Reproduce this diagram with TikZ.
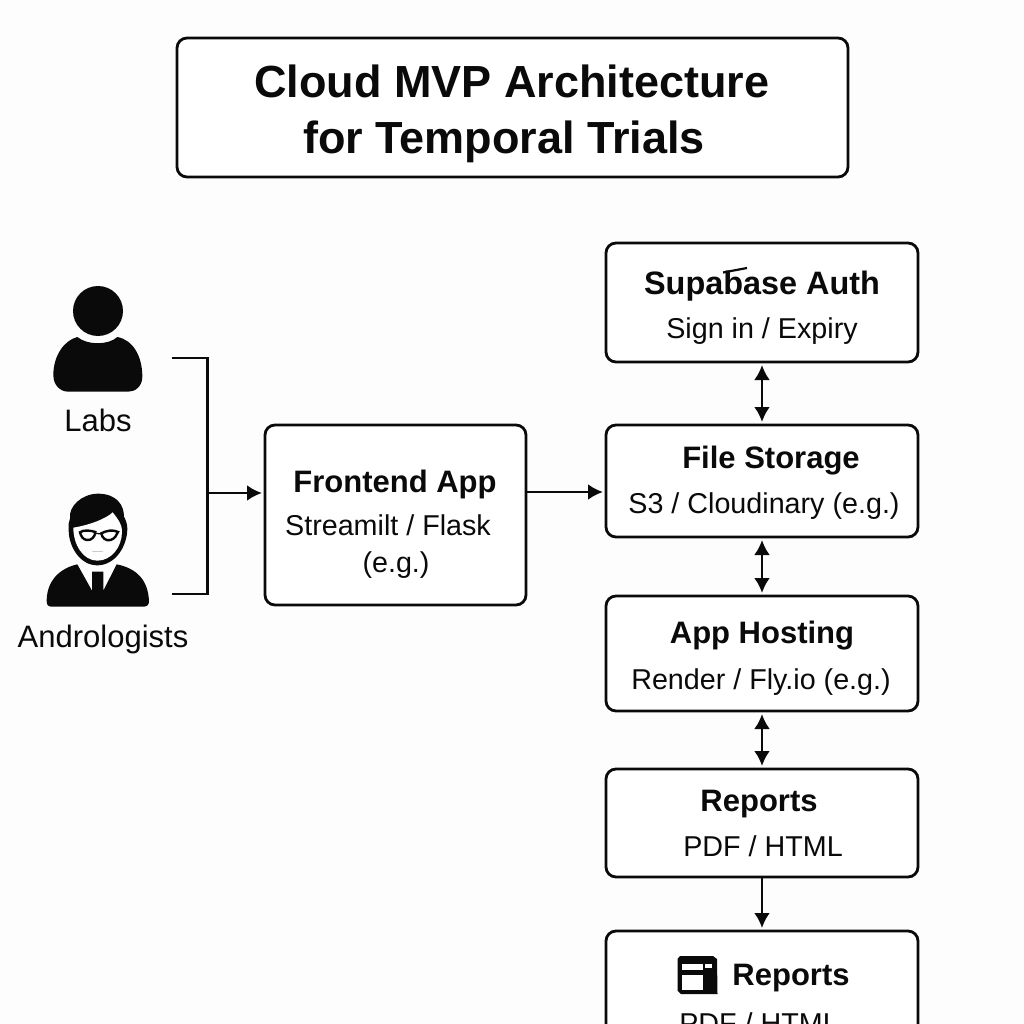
\documentclass[tikz,border=0pt]{standalone}
\usepackage{fontspec}
\setmainfont{Liberation Sans}
\usetikzlibrary{arrows.meta}
\definecolor{ink}{HTML}{0A0A0A}
\definecolor{paper}{HTML}{FDFDFD}
\tikzset{
  box/.style={draw=ink,line width=2.8pt,rounded corners=10pt,fill=white,inner sep=0pt,outer sep=3pt},
  titletext/.style={anchor=base,inner sep=0pt,font=\fontsize{45}{45}\selectfont\bfseries,text=ink},
  headtext/.style={anchor=base,inner sep=0pt,font=\fontsize{31}{31}\selectfont\bfseries,text=ink},
  subtext/.style={anchor=base,inner sep=0pt,font=\fontsize{28.7}{28.7}\selectfont,text=ink},
  labeltext/.style={anchor=base,inner sep=0pt,font=\fontsize{31}{31}\selectfont,text=ink},
  conn/.style={draw=ink,line width=2.8pt},
  one/.style={conn,-{Latex[length=15pt,width=16pt]}},
  two/.style={conn,{Latex[length=15pt,width=16pt]}-{Latex[length=15pt,width=16pt]}},
  glyph/.style={fill=ink,draw=none}
}
\begin{document}
\begin{tikzpicture}[x=1pt,y=-1pt]
\useasboundingbox (0,0) rectangle (1024,1024);
\clip (0,0) rectangle (1024,1024);
\fill[paper] (0,0) rectangle (1024,1024);
% title
\node[box,minimum width=671pt,minimum height=139pt] (title) at (512.5,107.5) {};
\node[titletext] (t1) at (512,98) {Cloud MVP Architecture};
\node[titletext] (t2) at (504,154) {for Temporal Trials};
% boxes
\node[box,minimum width=312pt,minimum height=119pt] (auth) at (762,302.5) {};
\node[box,minimum width=312pt,minimum height=112pt] (storage) at (762,481) {};
\node[box,minimum width=312pt,minimum height=115pt] (hosting) at (762,653.5) {};
\node[box,minimum width=312pt,minimum height=108pt] (rep) at (762,823) {};
\node[box,minimum width=312pt,minimum height=150pt] (repb) at (762,1006) {};
\node[box,minimum width=261pt,minimum height=180pt] (front) at (395.5,515) {};
% box text
\node[headtext,font=\fontsize{32.4}{32.4}\selectfont\bfseries] (a1) at (762,294) {Supabase Auth};
\node[subtext] (a2) at (762,338) {Sign in / Expiry};
\node[headtext] (s1) at (771,468) {File Storage};
\node[subtext] (s2) at (764,513) {S3 / Cloudinary (e.g.)};
\node[headtext] (h1) at (762,643) {App Hosting};
\node[subtext] (h2) at (761,689) {Render / Fly.io (e.g.)};
\node[headtext] (r1) at (759,811) {Reports};
\node[subtext] (r2) at (763,856) {PDF / HTML};
\node[headtext] (b1) at (791,985) {Reports};
\node[subtext] (b2) at (759,1033) {PDF / HTML};
\node[headtext] (f1) at (395,492) {Frontend App};
\node[subtext] (f2) at (388,535) {Streamilt / Flask};
\node[subtext] (f3) at (396,572) {(e.g.)};
\node[labeltext] (l1) at (98,431) {Labs};
\node[labeltext] (l2) at (103,647) {Andrologists};
% report icon
\begin{scope}
\fill[ink] (680,956) -- (713,956) -- ++(4,3) -- (717.5,994) -- (681,994) -- ++(-3.5,-3.5) -- (677.5,959) -- cycle;
\fill[white] (682,963.5) rectangle (703,970);
\fill[white] (705,964) rectangle (712,967.5);
\fill[white] (682,975) rectangle (703,990);
\end{scope}
% person: labs
\fill[ink] (98,311) circle (25);
\begin{scope}[shift={(0,270)},scale=1/3]
\fill[ink] (232,201) .. controls (262,226) and (325,226) .. (352,201)
  .. controls (400,210) and (427,260) .. (427,320)
  .. controls (427,350) and (405,365) .. (385,365) -- (205,365)
  .. controls (180,365) and (160,345) .. (160,315)
  .. controls (160,260) and (190,212) .. (232,201) -- cycle;
% person: andrologist
\fill[ink] (206,780) .. controls (206,830) and (240,886) .. (292,886)
  .. controls (345,886) and (382,830) .. (382,775)
  .. controls (382,760) and (375,745) .. (372,740)
  .. controls (372,705) and (350,672) .. (295,671)
  .. controls (245,671) and (205,710) .. (210,745)
  .. controls (205,755) and (206,765) .. (206,780) -- cycle;
\fill[white] (220,773) .. controls (270,765) and (320,745) .. (338,727)
  .. controls (352,745) and (366,760) .. (366,785)
  .. controls (366,830) and (335,872) .. (292,872)
  .. controls (250,872) and (220,825) .. (220,773) -- cycle;
\draw[ink,line width=2.4pt,fill=white] (240,787) .. controls (250,778) and (275,782) .. (286,786)
  .. controls (285,800) and (275,812) .. (260,810) .. controls (248,808) and (243,798) .. (240,787) -- cycle;
\draw[ink,line width=2.4pt,fill=white] (354,786) .. controls (340,778) and (318,782) .. (304,790)
  .. controls (306,804) and (318,814) .. (332,810) .. controls (344,806) and (350,796) .. (354,786) -- cycle;
\draw[ink,line width=1.2pt] (286,790) -- (304,792);
\draw[gray!60,line width=.5pt] (276,843) .. controls (285,846) and (300,846) .. (310,843);
\fill[ink] (232,883) -- (276,962) -- (276,905) -- (310,905) -- (310,962) -- (350,883)
  .. controls (410,895) and (445,930) .. (447,995)
  .. controls (447,1005) and (440,1010) .. (430,1010) -- (155,1010)
  .. controls (145,1010) and (139,1005) .. (140,990)
  .. controls (142,930) and (180,895) .. (232,883) -- cycle;
\end{scope}
% supabase glyph mark
\draw[ink,line width=2.2pt] (723,272.5) -- (747,268);
% connectors
\coordinate (labsEnd) at (172,358);
\coordinate (andEnd) at (172,594);
\coordinate (joinTop) at (207.5,358);
\coordinate (joinBot) at (207.5,594);
\coordinate (joinMid) at (207.5,493);
\coordinate (outMid) at (526,492);
\draw[conn,line join=miter] (labsEnd) -- (joinTop) -- (joinBot) -- (andEnd);
\draw[one] (joinMid) -- (joinMid -| front.west);
\draw[one] (outMid) -- (outMid -| storage.west);
\draw[two] (auth) -- (storage);
\draw[two] (storage) -- (hosting);
\draw[two] (hosting) -- (rep);
\draw[one,shorten <=-3pt] (rep) -- (repb);
\end{tikzpicture}
\end{document}
